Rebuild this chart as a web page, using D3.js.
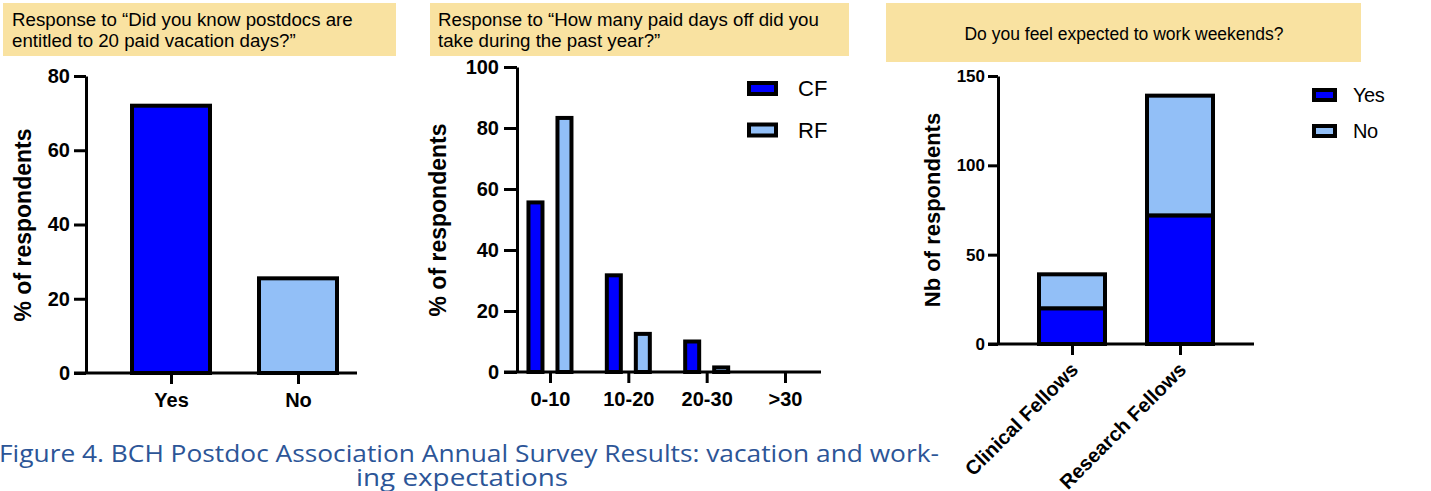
<!DOCTYPE html>
<html>
<head>
<meta charset="utf-8">
<script src="https://cdn.jsdelivr.net/npm/d3@7"></script>
<style>
  body { margin: 0; background: #fff; }
  svg text { font-family: "Liberation Sans", Arial, sans-serif; fill: #000; }
  .axis path, .axis line { stroke: #000; stroke-width: 3; }
  .axis text { font-weight: bold; }
</style>
</head>
<body>
<div id="chart"></div>
<script>
// data
var vacCats = ["Yes", "No"];
var vacVals = [72, 25.5];

var daysCats = ["0-10", "10-20", "20-30", ">30"];
var cfVals = [55.6, 31.7, 10, 0];
var rfVals = [83.3, 12.5, 1.5, 0];

var wkCats = ["Clinical Fellows", "Research Fellows"];
var wkYes = [20, 72];
var wkNo = [19, 67];

var dark = "#0000ff", light = "#92bff7", boxFill = "#f9e2a1";

var svg = d3.select("#chart").append("svg")
  .attr("width", 1431)
  .attr("height", 491);

// title boxes
function titleBox(x, y, w, h) {
  svg.append("rect").attr("x", x).attr("y", y).attr("width", w).attr("height", h).attr("fill", boxFill);
}
titleBox(3, 3, 393, 53);
titleBox(430, 3, 419, 53);
titleBox(886, 3, 475, 59);

function titleLines(lines, x, y0, anchor, size) {
  lines.forEach(function (t, i) {
    svg.append("text").attr("x", x).attr("y", y0 + i * 21)
      .attr("text-anchor", anchor).style("font-size", size + "px").text(t);
  });
}
titleLines(["Response to “Did you know postdocs are", "entitled to 20 paid vacation days?”"], 12, 26, "start", 18.7);
titleLines(["Response to “How many paid days off did you", "take during the past year?”"], 438, 26, "start", 18.7);
titleLines(["Do you feel expected to work weekends?"], 1124, 40, "middle", 17.5);

// common axis helper
function yAxis(g, y, x0, tick, pad, fs, ticks) {
  var ax = g.append("g").attr("class", "axis").attr("transform", "translate(" + x0 + ",0)")
    .call(d3.axisLeft(y).tickValues(ticks).tickSize(tick).tickSizeOuter(0).tickPadding(pad));
  ax.selectAll("text").style("font-size", fs + "px");
  return ax;
}
function xAxis(g, x, y0, x1, x2, fs) {
  var ax = g.append("g").attr("class", "axis").attr("transform", "translate(0," + y0 + ")")
    .call(d3.axisBottom(x).tickSize(11).tickPadding(9));
  ax.select(".domain").remove();
  ax.append("line").attr("x1", x1).attr("x2", x2).attr("y1", 0).attr("y2", 0);
  ax.selectAll("text").style("font-size", fs + "px");
  return ax;
}
function yLabel(g, txt, x, y, fs) {
  g.append("text").attr("transform", "translate(" + x + "," + y + ") rotate(-90)")
    .attr("text-anchor", "middle").style("font-size", fs + "px").style("font-weight", "bold").text(txt);
}

// ---- panel 1
var g1 = svg.append("g");
var y1 = d3.scaleLinear().domain([0, 80]).range([373, 76]);
var x1 = d3.scalePoint().domain(vacCats).range([107.5, 361.5]).padding(0.5);
g1.selectAll(".bar").data(vacCats).enter().append("rect")
  .attr("x", function (d) { return x1(d) - 39; })
  .attr("y", function (d, i) { return y1(vacVals[i]); })
  .attr("width", 78)
  .attr("height", function (d, i) { return y1(0) - y1(vacVals[i]); })
  .attr("fill", function (d, i) { return i == 0 ? dark : light; })
  .attr("stroke", "#000").attr("stroke-width", 4);
yAxis(g1, y1, 86, 12, 4, 20, [0, 20, 40, 60, 80]);
xAxis(g1, x1, 373, 74, 357, 20);
yLabel(g1, "% of respondents", 31, 225, 23);

// ---- panel 2
var g2 = svg.append("g");
var y2 = d3.scaleLinear().domain([0, 100]).range([372, 67]);
var x2 = d3.scalePoint().domain(daysCats).range([510.8, 824.2]).padding(0.5);
var sub = d3.scalePoint().domain(["CF", "RF"]).range([-14.5, 14.5]);
var grouped = [];
daysCats.forEach(function (c, i) {
  grouped.push({ cat: c, key: "CF", value: cfVals[i] });
  grouped.push({ cat: c, key: "RF", value: rfVals[i] });
});
g2.selectAll(".bar").data(grouped.filter(function (d) { return d.value > 0; })).enter().append("rect")
  .attr("x", function (d) { return x2(d.cat) + sub(d.key) - 7; })
  .attr("y", function (d) { return y2(d.value); })
  .attr("width", 14)
  .attr("height", function (d) { return y2(0) - y2(d.value); })
  .attr("fill", function (d) { return d.key == "CF" ? dark : light; })
  .attr("stroke", "#000").attr("stroke-width", 4);
yAxis(g2, y2, 517, 13, 5, 20, [0, 20, 40, 60, 80, 100]);
xAxis(g2, x2, 372, 504, 821, 20);
yLabel(g2, "% of respondents", 446, 220, 23);

var leg2 = g2.selectAll(".leg").data(["CF", "RF"]).enter().append("g")
  .attr("transform", function (d, i) { return "translate(749," + (83 + i * 41.5) + ")"; });
leg2.append("rect").attr("width", 27).attr("height", 11)
  .attr("fill", function (d) { return d == "CF" ? dark : light; })
  .attr("stroke", "#000").attr("stroke-width", 4);
leg2.append("text").attr("x", 49).attr("y", 5.5).attr("dy", "0.35em")
  .style("font-size", "22px").text(function (d) { return d; });

// ---- panel 3
var g3 = svg.append("g");
var y3 = d3.scaleLinear().domain([0, 150]).range([344, 76]);
var x3 = d3.scalePoint().domain(wkCats).range([1018, 1234]).padding(0.5);
var wkRows = wkCats.map(function (c, i) { return { cat: c, Yes: wkYes[i], No: wkNo[i] }; });
var stack = d3.stack().keys(["Yes", "No"])(wkRows);
g3.selectAll(".layer").data(stack).enter().append("g")
  .attr("fill", function (d) { return d.key == "Yes" ? dark : light; })
  .selectAll("rect").data(function (d) { return d; }).enter().append("rect")
  .attr("x", function (d) { return x3(d.data.cat) - 33; })
  .attr("y", function (d) { return y3(d[1]); })
  .attr("width", 66)
  .attr("height", function (d) { return y3(d[0]) - y3(d[1]); })
  .attr("stroke", "#000").attr("stroke-width", 4);
yAxis(g3, y3, 998, 10, 3, 17, [0, 50, 100, 150]);
var ax3 = xAxis(g3, x3, 344, 988, 1254, 20);
ax3.selectAll("text")
  .attr("text-anchor", "end")
  .attr("transform", "translate(2,22) rotate(-45)")
  .attr("dy", "0.35em").attr("y", 0).attr("x", 0);
yLabel(g3, "Nb of respondents", 940, 210, 22);

var leg3 = g3.selectAll(".leg").data(["Yes", "No"]).enter().append("g")
  .attr("transform", function (d, i) { return "translate(1314," + (90 + i * 36) + ")"; });
leg3.append("rect").attr("width", 21).attr("height", 10)
  .attr("fill", function (d) { return d == "Yes" ? dark : light; })
  .attr("stroke", "#000").attr("stroke-width", 4);
leg3.append("text").attr("x", 39).attr("y", 5).attr("dy", "0.35em")
  .style("font-size", "20px").style("letter-spacing", "-0.5px").text(function (d) { return d; });

// caption
svg.append("text").attr("x", 469).attr("y", 462).attr("text-anchor", "middle")
  .attr("textLength", 940).attr("lengthAdjust", "spacingAndGlyphs")
  .style("font-family", "'Open Sans', sans-serif").style("font-size", "24px").style("fill", "#2c5597")
  .text("Figure 4. BCH Postdoc Association Annual Survey Results: vacation and work-");
svg.append("text").attr("x", 462).attr("y", 486).attr("text-anchor", "middle")
  .attr("textLength", 212).attr("lengthAdjust", "spacingAndGlyphs")
  .style("font-family", "'Open Sans', sans-serif").style("font-size", "24px").style("fill", "#2c5597")
  .text("ing expectations");
</script>
</body>
</html>
